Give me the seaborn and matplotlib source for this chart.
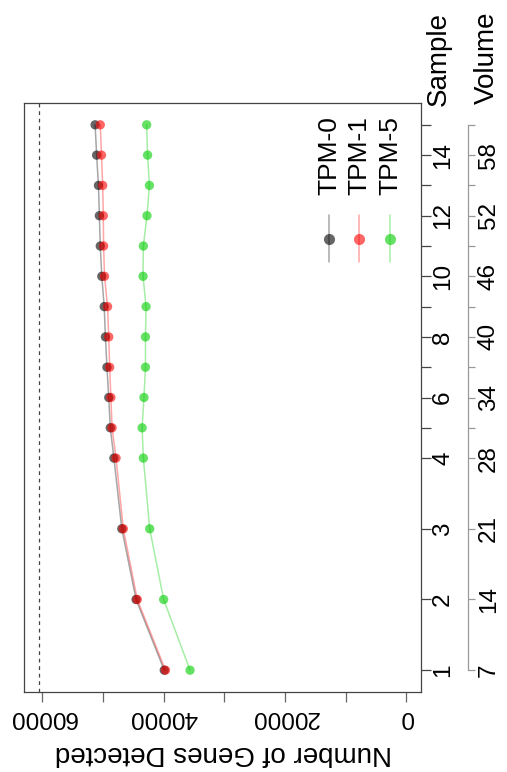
import matplotlib
matplotlib.use("Agg")
import matplotlib.pyplot as plt
import seaborn as sns
import pandas as pd
from matplotlib.lines import Line2D

# ---- data ----
samples = list(range(1, 16))
volume = [7, 14, 21, 28, 31, 34, 37, 40, 43, 46, 49, 52, 55, 58, 61]
tpm0 = [39900, 44550, 46900, 48200, 48800, 49050, 49350, 49600, 49800, 50200, 50450, 50600, 50750, 51050, 51300]
tpm1 = [39700, 44350, 46650, 47850, 48500, 48700, 48900, 49050, 49250, 49750, 49900, 49950, 50050, 50250, 50450]
tpm5 = [35650, 40000, 42300, 43350, 43550, 43250, 43000, 43000, 42900, 43400, 43350, 42750, 42350, 42650, 42800]
total_genes = 60600
series_names = ["TPM-0", "TPM-1", "TPM-5"]
series_colors = ["#000000", "#FF0000", "#00CD00"]
gene_ticks = [0, 10000, 20000, 30000, 40000, 50000, 60000]
gene_labels = ["0", "", "20000", "", "40000", "", "60000"]
sample_labels = ["1", "2", "3", "4", "", "6", "", "8", "", "10", "", "12", "", "14", ""]
volume_labels = ["7", "14", "21", "28", "", "34", "", "40", "", "46", "", "52", "", "58", ""]

df = pd.DataFrame({
    "genes": tpm0 + tpm1 + tpm5,
    "volume": volume * 3,
    "threshold": sum([[n] * len(volume) for n in series_names], []),
})

sns.set_style("white")
plt.rcParams["font.family"] = ["Liberation Sans", "DejaVu Sans"]
plt.rcParams["text.color"] = "black"
plt.rcParams["xtick.labelcolor"] = "black"
plt.rcParams["ytick.labelcolor"] = "black"

W, H = 507, 772
fig = plt.figure(figsize=(W / 100, H / 100), dpi=100)
ax = fig.add_axes([24 / W, 80 / H, (421 - 24) / W, (692 - 103) / H])

def fpos(x, y):
    return (x / W, 1 - y / H)

pal = dict(zip(series_names, series_colors))
sns.lineplot(data=df, x="genes", y="volume", hue="threshold", palette=pal,
             orient="y", sort=False, estimator=None, ax=ax, legend=False,
             alpha=0.35, linewidth=1.1)
sns.scatterplot(data=df, x="genes", y="volume", hue="threshold", palette=pal,
                ax=ax, legend=False, alpha=0.6, s=45, linewidth=0, zorder=3)

ax.axvline(total_genes, color="#444444", linestyle=(0, (3, 3)), linewidth=0.9)

rng_x = total_genes
ax.set_xlim(total_genes + 0.04 * rng_x, 0 - 0.04 * rng_x)
rng_y = volume[-1] - volume[0]
ax.set_ylim(volume[0] - 0.04 * rng_y, volume[-1] + 0.04 * rng_y)

for sp in ax.spines.values():
    sp.set_visible(True)
    sp.set_color("#444444")
    sp.set_linewidth(0.9)

ax.set_xticks(gene_ticks)
ax.set_xticklabels(gene_labels, rotation=180, fontsize=17.5)
ax.tick_params(axis="x", direction="out", length=7, width=0.9, color="#666666",
               pad=3, bottom=True, labelcolor="black")
ax.set_xlabel("")
ax.set_ylabel("")

ax2 = ax.twinx()
ax2.set_ylim(ax.get_ylim())

ax.yaxis.tick_right()
ax.set_yticks(volume)
ax.set_yticklabels(sample_labels, rotation=90, fontsize=17.5, va="center")
ax.tick_params(axis="y", direction="out", length=7, width=0.9, color="#444444",
               pad=1, right=True, left=False, labelright=True, labelleft=False,
               labelcolor="black")

for k in ["top", "left", "bottom"]:
    ax2.spines[k].set_visible(False)
ax2.spines["right"].set_position(("outward", 47 * 0.72))
ax2.spines["right"].set_bounds(volume[0], volume[-1])
ax2.spines["right"].set_color("#999999")
ax2.spines["right"].set_linewidth(0.9)
ax2.set_yticks(volume)
ax2.set_yticklabels(volume_labels, rotation=90, fontsize=17.5, va="center")
ax2.tick_params(axis="y", direction="out", length=7 * 0.72, width=0.9, color="#999999",
                pad=2, labelcolor="black")
ax2.patch.set_visible(False)

# axis titles
fig.text(*fpos(223, 753), "Number of Genes Detected", rotation=180,
         ha="center", va="center", fontsize=20, color="black")
fig.text(*fpos(439, 12), "Sample", rotation=90, ha="center", va="top", fontsize=20, color="black")
fig.text(*fpos(487, 12), "Volume", rotation=90, ha="center", va="top", fontsize=20, color="black")

# legend (rotated)
leg_x = [329, 359, 390]
for name, col, lx in zip(series_names, series_colors, leg_x):
    fig.text(*fpos(lx, 116), name, rotation=90, ha="center", va="top", fontsize=19, color="black")
    x0, y0 = fpos(lx, 215)
    x1, y1 = fpos(lx, 262)
    fig.add_artist(Line2D([x0, x1], [y0, y1], color=col, alpha=0.35, linewidth=1.1,
                          transform=fig.transFigure))
    mx, my = fpos(lx, 239)
    fig.add_artist(Line2D([mx], [my], marker="o", markersize=8, color=col, alpha=0.6,
                          markeredgewidth=0, linestyle="none", transform=fig.transFigure))

fig.savefig("out.png", dpi=100)
